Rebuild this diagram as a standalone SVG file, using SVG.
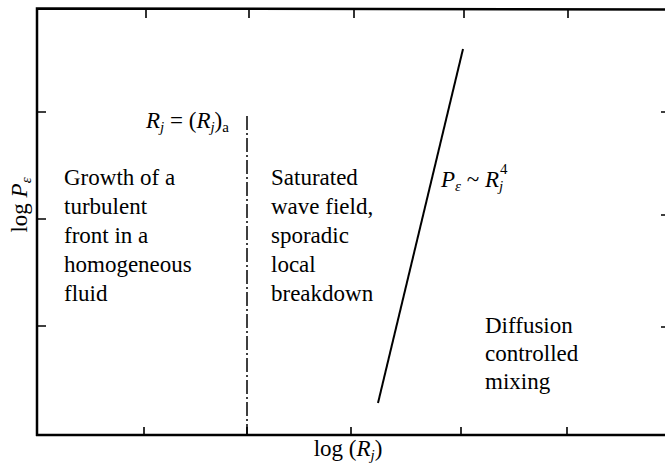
<svg xmlns="http://www.w3.org/2000/svg" width="665" height="469" viewBox="0 0 665 469">
<rect width="665" height="469" fill="#fff"/>
<g id="axes" stroke="#000" fill="none">
<path stroke-width="2.5" d="M37,436 L37,8.5 L665,9.5"/>
<path stroke-width="2.5" d="M36,435 L665,435"/>
<path stroke-width="1.6" d="M146,9 V18 M249,9 V18 M354,9 V18 M464,9 V18 M568,9 V18"/>
<path stroke-width="1.6" d="M144,435 V427 M247,435 V427 M351,435 V427 M461,435 V427 M567,435 V427"/>
<path stroke-width="1.6" d="M37,112 H46 M37,219 H46 M37,326 H46"/>
<path stroke-width="1.6" d="M661,112 H665 M661,215 H665 M661,327 H665"/>
</g>
<g id="connectors" stroke="#000" fill="none">
<path id="boundary-a" d="M247,116 V435" stroke-width="1.5" stroke-dasharray="14 3 2 3"/>
<path id="boundary-b" d="M463,49 L378,403" stroke-width="2"/>
</g>
<g id="label-ra"><text font-family="Liberation Serif" font-size="23" x="146" y="128"><tspan font-style="italic">R</tspan><tspan font-style="italic" font-size="15" dy="4">j</tspan><tspan dy="-4"> = (</tspan><tspan font-style="italic">R</tspan><tspan font-style="italic" font-size="15" dy="4">j</tspan><tspan dy="-4">)</tspan><tspan font-size="15" dy="4">a</tspan></text></g>
<g id="label-pe"><text font-family="Liberation Serif" font-size="23" x="441" y="187"><tspan font-style="italic">P</tspan><tspan font-style="italic" font-size="15" dy="4">ε</tspan><tspan dy="-4"> ~ </tspan><tspan font-style="italic">R</tspan><tspan font-style="italic" font-size="15" dy="4">j</tspan></text><text font-family="Liberation Serif" font-size="15" x="500" y="174">4</text></g>
<g id="region-turbulent"><text font-family="Liberation Serif" font-size="23" x="64" y="185">Growth of a</text><text font-family="Liberation Serif" font-size="23" x="64" y="214">turbulent</text><text font-family="Liberation Serif" font-size="23" x="64" y="243">front in a</text><text font-family="Liberation Serif" font-size="23" x="64" y="272">homogeneous</text><text font-family="Liberation Serif" font-size="23" x="64" y="301">fluid</text></g>
<g id="region-saturated"><text font-family="Liberation Serif" font-size="23" x="271" y="185">Saturated</text><text font-family="Liberation Serif" font-size="23" x="271" y="214">wave field,</text><text font-family="Liberation Serif" font-size="23" x="271" y="243">sporadic</text><text font-family="Liberation Serif" font-size="23" x="271" y="272">local</text><text font-family="Liberation Serif" font-size="23" x="271" y="301">breakdown</text></g>
<g id="region-diffusion"><text font-family="Liberation Serif" font-size="23" x="485" y="333">Diffusion</text><text font-family="Liberation Serif" font-size="23" x="485" y="361">controlled</text><text font-family="Liberation Serif" font-size="23" x="485" y="389">mixing</text></g>
<g id="axis-x-label"><text font-family="Liberation Serif" font-size="23" x="348" y="456" text-anchor="middle">log (<tspan font-style="italic">R</tspan><tspan font-style="italic" font-size="15" dy="4">j</tspan><tspan dy="-4">)</tspan></text></g>
<g id="axis-y-label"><text font-family="Liberation Serif" font-size="23" transform="translate(27,205) rotate(-90)" text-anchor="middle">log <tspan font-style="italic">P</tspan><tspan font-style="italic" font-size="15" dy="4">ε</tspan></text></g>
</svg>
